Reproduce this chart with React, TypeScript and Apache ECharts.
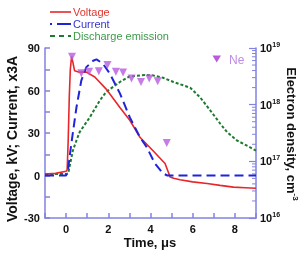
import React, { useEffect, useRef } from "react";
import * as echarts from "echarts";

// Time axes (µs) and waveforms on the left axis (kV, x3A, a.u.)
const timeV = [-1, -0.5, 0, 0.05, 0.1, 0.15, 0.2, 0.26, 0.32, 0.4, 0.6, 0.96, 1.36, 1.9, 2.55, 3.02, 3.5, 4.12, 4.69, 4.93, 5.1, 5.4, 6.0, 6.68, 7.3, 7.93, 8.5, 9];
const voltage = [1, 1.5, 3, 4, 25, 55, 75, 84, 80, 74, 73, 73, 69.5, 61, 48, 39, 27, 17.5, 8.5, -1, -2, -3, -4.5, -5.7, -7, -8.2, -8.6, -9];

const timeI = [-1, 0, 0.1, 0.2, 0.3, 0.49, 0.72, 0.96, 1.28, 1.44, 1.74, 2.07, 2.55, 3.02, 3.5, 3.82, 4.21, 4.6, 4.8, 5.0, 9];
const current = [0, 0, 5, 17, 28, 48, 67, 76.5, 81, 82, 79, 72, 58, 41, 27, 20, 8.5, 1.4, 0, 0, 0];

const timeE = [-1, 0, 0.1, 0.32, 0.49, 0.64, 1.12, 1.6, 1.9, 2.55, 3.02, 3.5, 3.82, 4.13, 4.6, 5.09, 5.88, 6.36, 6.83, 7.3, 7.63, 8.1, 8.4, 9];
const emission = [1, 1, 1.5, 17.6, 24.7, 30.6, 41, 53, 59, 66, 70, 70.6, 71, 70.6, 69, 66, 62, 55, 46, 36.7, 30.6, 24.7, 22.4, 17.6];

// Electron density (cm^-3) on the right log axis
const timeNe = [0.28, 0.72, 1.09, 1.55, 1.96, 2.36, 2.7, 3.1, 3.55, 3.94, 4.34, 4.77];
const ne = [7.0e18, 3.6e18, 3.8e18, 3.9e18, 5.0e18, 3.8e18, 3.7e18, 2.9e18, 2.5e18, 2.9e18, 2.6e18, 2.1e17];

const leftTicks = { min: -30, max: 90, interval: 30 };
const timeTicks = { min: -1, max: 9, interval: 1 };
const decades = [16, 17, 18];

const FONT = "'Liberation Sans', Arial, sans-serif";
const AXIS_COLOR = "#8282e2";
const RED = "#e8262a";
const BLUE = "#1f24d8";
const GREEN = "#1e7a30";
const VIOLET = "#b85ade";

const pairs = (xs: number[], ys: number[]) => xs.map((x, i) => [x, ys[i]]);

export default function App() {
  const ref = useRef<HTMLDivElement>(null);

  useEffect(() => {
    if (!ref.current) return;
    const chart = echarts.init(ref.current, undefined, { renderer: "svg" });

    const minorLog: number[][] = [];
    decades.forEach((d) => {
      for (let k = 2; k <= 9; k++) minorLog.push([timeTicks.max, k * Math.pow(10, d)]);
    });

    const legendText = (text: string, y: number, fill: string) => ({
      type: "text",
      x: 73,
      y,
      style: { text, fill, fontSize: 11, fontFamily: FONT, lineHeight: 11, verticalAlign: "middle" },
    });

    chart.setOption({
      animation: false,
      grid: { left: 45, right: 43, top: 48, bottom: 37 },
      xAxis: {
        type: "value",
        min: timeTicks.min,
        max: timeTicks.max,
        interval: timeTicks.interval,
        axisLine: { onZero: false, lineStyle: { color: AXIS_COLOR, width: 1.5 } },
        axisTick: { inside: true, length: 5, lineStyle: { color: AXIS_COLOR, width: 1.5 } },
        axisLabel: {
          formatter: (v: number) => (Math.round(v) % 2 === 0 ? String(v) : ""),
          color: "#111",
          fontWeight: "bold",
          fontSize: 11,
          fontFamily: FONT,
          margin: 5,
        },
        splitLine: { show: false },
      },
      yAxis: [
        {
          type: "value",
          min: leftTicks.min,
          max: leftTicks.max,
          interval: leftTicks.interval,
          axisLine: { show: true, onZero: false, lineStyle: { color: AXIS_COLOR, width: 1.5 } },
          axisTick: { show: true, inside: true, length: 5, lineStyle: { color: AXIS_COLOR, width: 1.5 } },
          minorTick: { show: true, splitNumber: 2, length: 5, lineStyle: { color: AXIS_COLOR, width: 1.5 } },
          axisLabel: { color: "#111", fontWeight: "bold", fontSize: 11, fontFamily: FONT, margin: 5 },
          splitLine: { show: false },
        },
        {
          type: "log",
          logBase: 10,
          min: 1e16,
          max: 1e19,
          position: "right",
          axisLine: { show: true, onZero: false, lineStyle: { color: AXIS_COLOR, width: 1.5 } },
          axisTick: { show: true, inside: true, length: 7, lineStyle: { color: AXIS_COLOR, width: 1.2 } },
          axisLabel: {
            margin: 4,
            formatter: (v: number) => `{b|10}{s|${Math.round(Math.log10(v))}}`,
            rich: {
              b: { fontSize: 11, fontWeight: "bold", color: "#111", fontFamily: FONT },
              s: { fontSize: 7, fontWeight: "bold", color: "#111", fontFamily: FONT, verticalAlign: "bottom", padding: [0, 0, 7, 0] },
            },
          },
          splitLine: { show: false },
        },
      ],
      series: [
        {
          type: "line",
          name: "Voltage",
          data: pairs(timeV, voltage),
          showSymbol: false,
          lineStyle: { color: RED, width: 1.6 },
          z: 3,
        },
        {
          type: "line",
          name: "Current",
          data: pairs(timeI, current),
          showSymbol: false,
          lineStyle: { color: BLUE, width: 2, type: [9, 5] },
          z: 4,
        },
        {
          type: "line",
          name: "Discharge emission",
          data: pairs(timeE, emission),
          showSymbol: false,
          lineStyle: { color: GREEN, width: 2, type: [3, 2] },
          z: 2,
        },
        {
          type: "scatter",
          name: "Ne",
          yAxisIndex: 1,
          data: pairs(timeNe, ne),
          symbol: "triangle",
          symbolRotate: 180,
          symbolSize: 8,
          itemStyle: { color: VIOLET },
          z: 5,
        },
        {
          // minor log ticks between decades on the density axis
          type: "custom",
          yAxisIndex: 1,
          silent: true,
          clip: false,
          data: minorLog,
          renderItem: (_p: any, api: any) => {
            const pt = api.coord([api.value(0), api.value(1)]);
            return {
              type: "line",
              shape: { x1: pt[0] - 4, y1: pt[1], x2: pt[0], y2: pt[1] },
              style: { stroke: AXIS_COLOR, lineWidth: 1 },
            };
          },
          z: 1,
        },
      ],
      graphic: [
        { type: "line", shape: { x1: 50, y1: 12, x2: 71, y2: 12 }, style: { stroke: RED, lineWidth: 1.6 } },
        legendText("Voltage", 12, "#e2352e"),
        { type: "line", shape: { x1: 50, y1: 24, x2: 71, y2: 24 }, style: { stroke: BLUE, lineWidth: 2, lineDash: [2, 5, 14, 40] } },
        legendText("Current", 24, "#3535d4"),
        { type: "line", shape: { x1: 50, y1: 36, x2: 71, y2: 36 }, style: { stroke: GREEN, lineWidth: 2, lineDash: [5, 4] } },
        legendText("Discharge emission", 36, "#3d9a4a"),
        { type: "polygon", shape: { points: [[212.5, 55.5], [221, 55.5], [216.7, 62.5]] }, style: { fill: VIOLET } },
        { type: "text", x: 229, y: 60, style: { text: "Ne", fill: "#c08ae6", font: `12px ${FONT}`, verticalAlign: "middle" } },
        {
          type: "text",
          x: 12,
          y: 139,
          rotation: Math.PI / 2,
          style: { text: "Voltage, kV; Current, x3A", fill: "#111", font: `bold 14px ${FONT}`, align: "center", verticalAlign: "middle" },
        },
        {
          type: "text",
          x: 150,
          y: 242,
          style: { text: "Time, \u03bcs", fill: "#111", font: `bold 13px ${FONT}`, align: "center", verticalAlign: "middle" },
        },
        {
          type: "text",
          x: 291,
          y: 134,
          rotation: -Math.PI / 2,
          style: {
            text: "Electron density, cm{s|-3}",
            fill: "#111",
            font: `bold 13px ${FONT}`,
            align: "center",
            verticalAlign: "middle",
            rich: {
              s: { fontSize: 8, fontWeight: "bold", fill: "#111", fontFamily: FONT, verticalAlign: "bottom", padding: [0, 0, 8, 0] },
            },
          },
        },
      ],
    });

    return () => chart.dispose();
  }, []);

  return <div ref={ref} style={{ position: "fixed", left: 0, top: 0, width: 299, height: 255 }} />;
}
